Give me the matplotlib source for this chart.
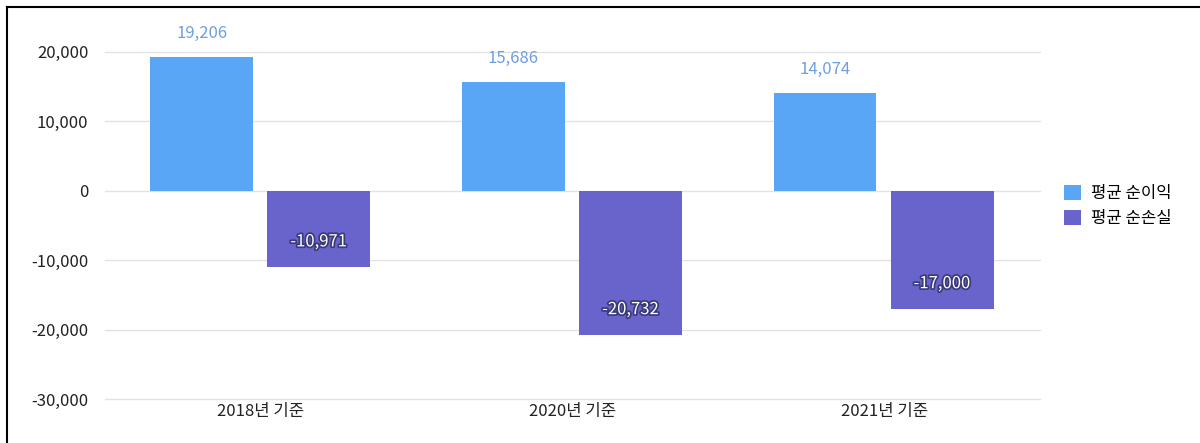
import matplotlib.pyplot as plt
import matplotlib.patheffects as pe
from matplotlib.lines import Line2D
import numpy as np

plt.rcParams['font.family'] = ['Noto Sans CJK KR', 'DejaVu Sans']

categories = ['2018년 기준', '2020년 기준', '2021년 기준']
profit = [19206, 15686, 14074]
loss = [-10971, -20732, -17000]
series_names = ['평균 순이익', '평균 순손실']
yticks = [-30000, -20000, -10000, 0, 10000, 20000]

blue = '#58A6F5'
purple = '#6964CB'

fig = plt.figure(figsize=(12, 4.43), dpi=100)
ax = fig.add_axes([105 / 1200, 1 - 399 / 443, 935 / 1200, 361 / 443])

x = np.arange(len(categories))
w = 0.33
b1 = ax.bar(x - 0.19, profit, w, color=blue, label=series_names[0], zorder=3)
b2 = ax.bar(x + 0.186, loss, w, color=purple, label=series_names[1], zorder=3)

for rect, v in zip(b1, profit):
    ax.annotate(f'{v:,}', (rect.get_x() + rect.get_width() / 2, v),
                xytext=(0, 17), textcoords='offset points', ha='center', va='center',
                color='#6D9FE2', fontsize=12)
for rect, v in zip(b2, loss):
    ax.annotate(f'{v:,}', (rect.get_x() + rect.get_width() / 2, v),
                xytext=(0, 18), textcoords='offset points', ha='center', va='center',
                color='white', fontsize=12, fontweight='medium',
                path_effects=[pe.withStroke(linewidth=2.5, foreground='#3a3a78')])

ax.set_xlim(-0.5, 2.5)
ax.set_ylim(-30000, 22000)
ax.set_yticks(yticks)
ax.set_yticklabels([f'{t:,}' for t in yticks], fontsize=12, color='#222222')
ax.set_xticks(x)
ax.set_xticklabels(categories, fontsize=12, color='#222222')
ax.tick_params(length=0, pad=12)
ax.tick_params(axis='x', pad=3)
ax.grid(axis='y', color='#e2e2e2', linewidth=1, zorder=0)
for gl in ax.get_ygridlines():
    gl.set_clip_on(False)
for s in ax.spines.values():
    s.set_visible(False)

leg = ax.legend(loc='center left', bbox_to_anchor=(1.01, 0.535), frameon=False,
                fontsize=12, handlelength=1.0, handleheight=1.0, handletextpad=0.6,
                labelspacing=0.45)

# outer frame: top and left only
fig.lines.append(Line2D([7 / 1200, 1], [1 - 7 / 443, 1 - 7 / 443], transform=fig.transFigure,
                        color='black', linewidth=1.5))
fig.lines.append(Line2D([7 / 1200, 7 / 1200], [0, 1 - 7 / 443], transform=fig.transFigure,
                        color='black', linewidth=1.5))

fig.savefig('out.png')
